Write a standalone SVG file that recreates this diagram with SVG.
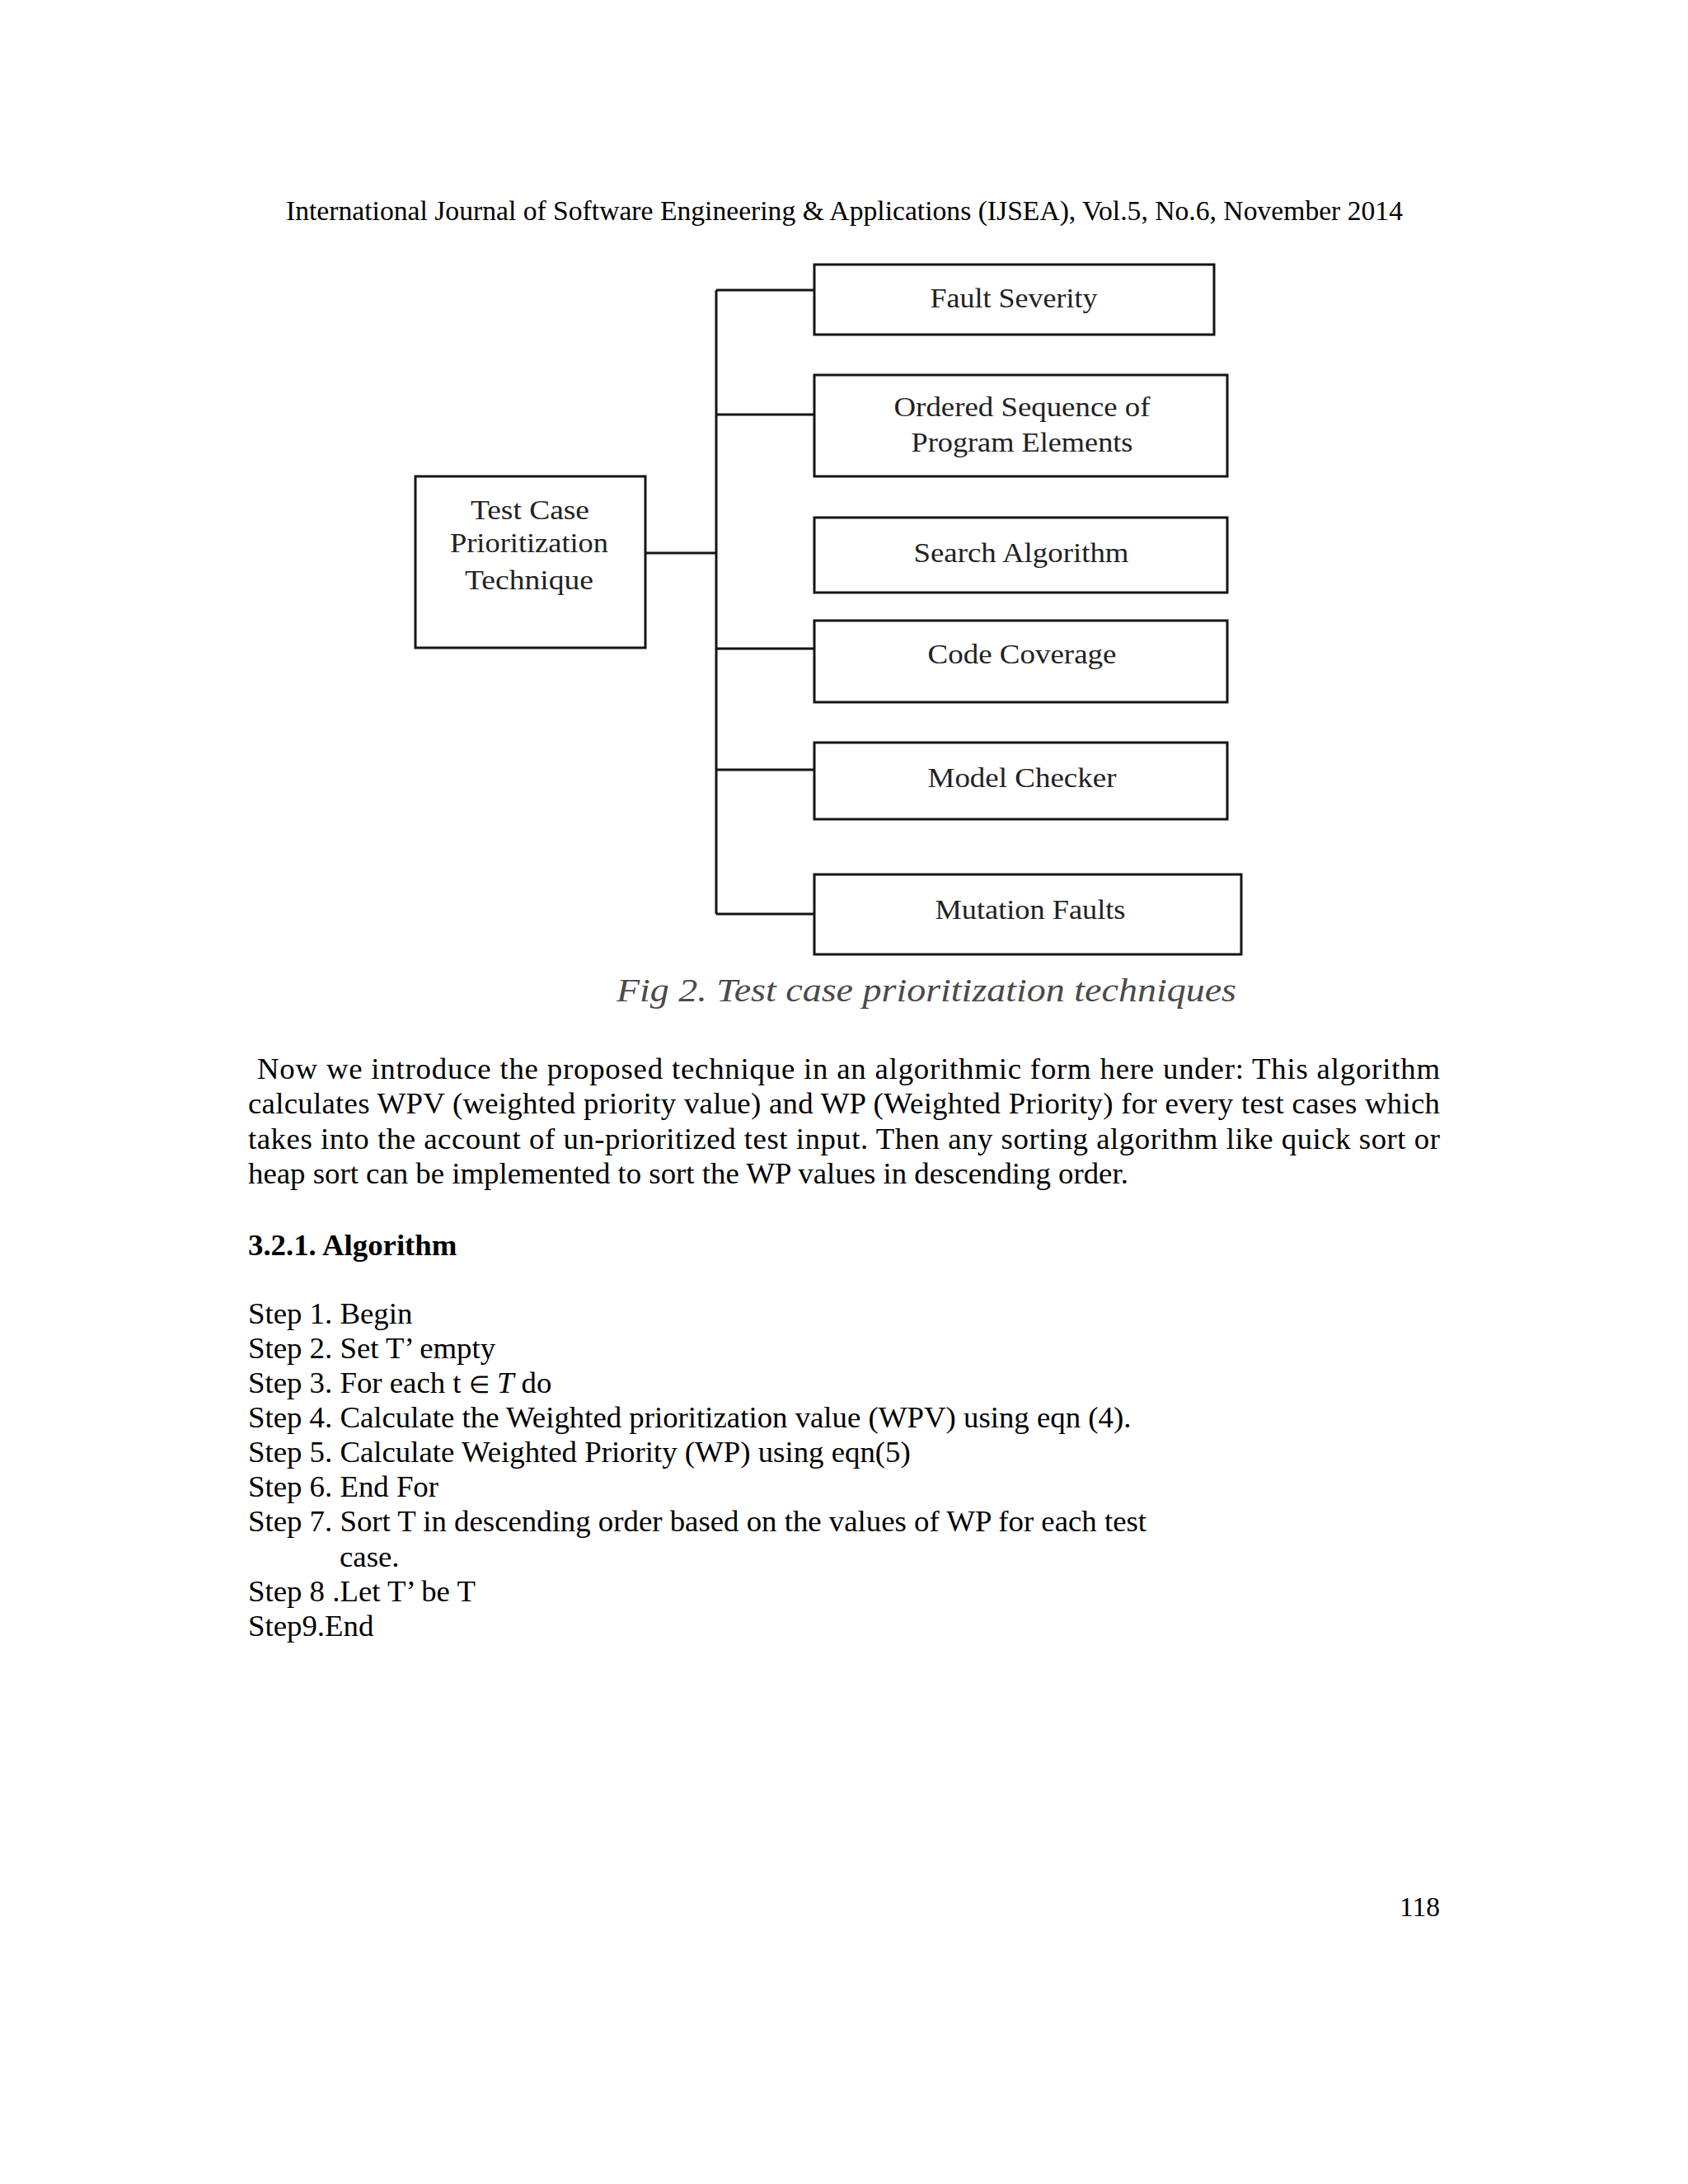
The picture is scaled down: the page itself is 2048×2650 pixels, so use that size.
<svg xmlns="http://www.w3.org/2000/svg" width="2048" height="2650" viewBox="0 0 2048 2650">
<style>
.page{font-family:"Liberation Serif","Times New Roman",serif;fill:#000}
.hdr{font-size:33.5px}
.body{font-size:36.8px}
.bold{font-weight:bold}
.box{fill:#fff;stroke:#151515;stroke-width:3}
.lbl{font-family:"Liberation Serif","Times New Roman",serif;font-size:34px;fill:#222;text-anchor:middle}
.cap{font-family:"Liberation Serif","Times New Roman",serif;font-style:italic;font-size:40px;fill:#4a4a4a}
.conn{stroke:#151515;stroke-width:3;fill:none}
</style>
<rect width="2048" height="2650" fill="#fff"/>
<text class="page hdr" x="347" y="267" textLength="1355" lengthAdjust="spacingAndGlyphs">International Journal of Software Engineering &amp; Applications (IJSEA), Vol.5, No.6, November 2014</text>

<g id="connectors">
<path class="conn" d="M869 352 V1109"/>
<path class="conn" d="M869 352 H988"/>
<path class="conn" d="M869 503 H988"/>
<path class="conn" d="M783 671 H869"/>
<path class="conn" d="M869 787 H988"/>
<path class="conn" d="M869 934 H988"/>
<path class="conn" d="M869 1109 H988"/>
</g>

<g id="node-test-case">
<rect class="box" x="504" y="578" width="279" height="208"/>
<text class="lbl" x="643" y="630" textLength="144" lengthAdjust="spacingAndGlyphs">Test Case</text>
<text class="lbl" x="642" y="670" textLength="192" lengthAdjust="spacingAndGlyphs">Prioritization</text>
<text class="lbl" x="642" y="715" textLength="156" lengthAdjust="spacingAndGlyphs">Technique</text>
</g>
<g id="node-fault-severity">
<rect class="box" x="988" y="321" width="485" height="85"/>
<text class="lbl" x="1230" y="373" textLength="203" lengthAdjust="spacingAndGlyphs">Fault Severity</text>
</g>
<g id="node-ordered-sequence">
<rect class="box" x="988" y="455" width="501" height="123"/>
<text class="lbl" x="1240" y="505" textLength="311" lengthAdjust="spacingAndGlyphs">Ordered Sequence of</text>
<text class="lbl" x="1240" y="548" textLength="269" lengthAdjust="spacingAndGlyphs">Program Elements</text>
</g>
<g id="node-search-algorithm">
<rect class="box" x="988" y="628" width="501" height="91"/>
<text class="lbl" x="1239" y="682" textLength="261" lengthAdjust="spacingAndGlyphs">Search Algorithm</text>
</g>
<g id="node-code-coverage">
<rect class="box" x="988" y="753" width="501" height="99"/>
<text class="lbl" x="1240" y="805" textLength="229" lengthAdjust="spacingAndGlyphs">Code Coverage</text>
</g>
<g id="node-model-checker">
<rect class="box" x="988" y="901" width="501" height="93"/>
<text class="lbl" x="1240" y="955" textLength="229" lengthAdjust="spacingAndGlyphs">Model Checker</text>
</g>
<g id="node-mutation-faults">
<rect class="box" x="988" y="1061" width="518" height="97"/>
<text class="lbl" x="1250" y="1115" textLength="231" lengthAdjust="spacingAndGlyphs">Mutation Faults</text>
</g>

<text class="cap" x="748" y="1215" textLength="752" lengthAdjust="spacingAndGlyphs">Fig 2. Test case prioritization techniques</text>

<g class="page body">
<text x="312" y="1309" textLength="1435" lengthAdjust="spacing">Now we introduce the proposed technique in an algorithmic form here under: This algorithm</text>
<text x="301" y="1351" textLength="1446" lengthAdjust="spacing">calculates WPV (weighted priority value) and WP (Weighted Priority) for every test cases which</text>
<text x="301" y="1394" textLength="1446" lengthAdjust="spacing">takes into the account of un-prioritized test input. Then any sorting algorithm like quick sort or</text>
<text x="301" y="1436">heap sort can be implemented to sort the WP values in descending order.</text>

<text class="bold" x="301" y="1523">3.2.1. Algorithm</text>

<text x="301" y="1606">Step 1. Begin</text>
<text x="301" y="1648">Step 2. Set T’ empty</text>
<text x="301" y="1690">Step 3. For each t <tspan font-size="29px">∈</tspan> <tspan font-style="italic">T</tspan> do</text>
<text x="301" y="1732">Step 4. Calculate the Weighted prioritization value (WPV) using eqn (4).</text>
<text x="301" y="1774">Step 5. Calculate Weighted Priority (WP) using eqn(5)</text>
<text x="301" y="1816">Step 6. End For</text>
<text x="301" y="1858">Step 7. Sort T in descending order based on the values of WP for each test</text>
<text x="412" y="1901">case.</text>
<text x="301" y="1943">Step 8 .Let T’ be T</text>
<text x="301" y="1985">Step9.End</text>
</g>
<text class="page hdr" x="1747" y="2325" text-anchor="end">118</text>
</svg>
